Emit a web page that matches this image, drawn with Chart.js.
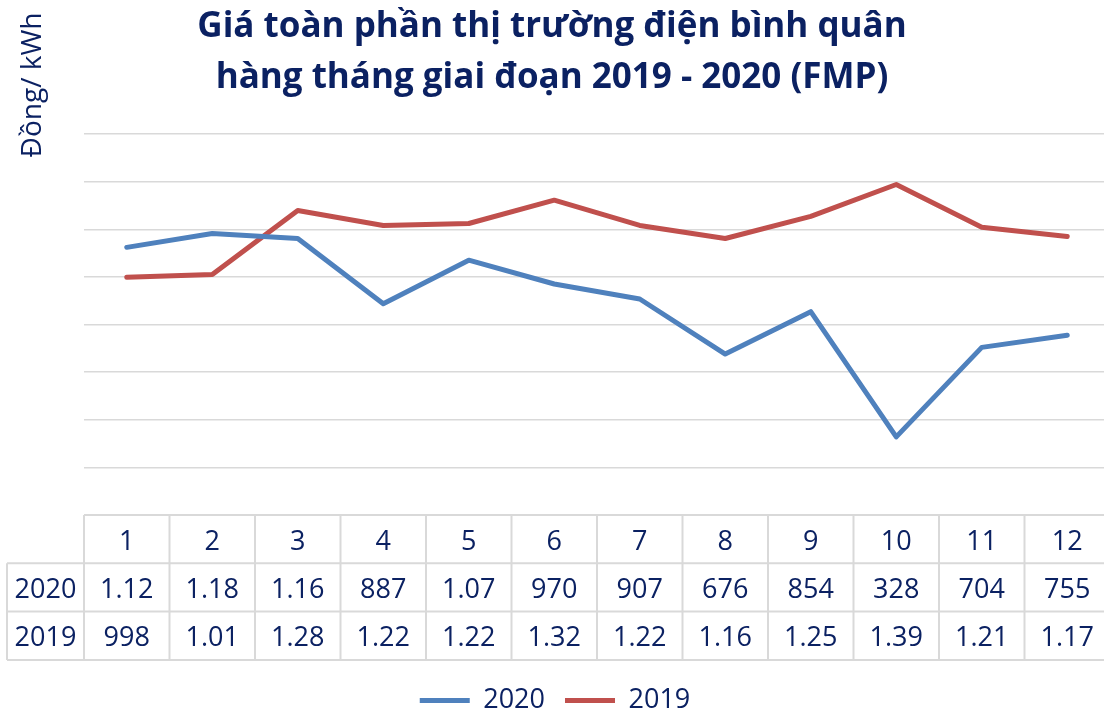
<!DOCTYPE html>
<html lang="vi">
<head>
    <meta charset="UTF-8">
    <title>Giá FMP 2019 - 2020</title>
    <script src="https://cdn.jsdelivr.net/npm/chart.js"></script>
    <style>
        html, body { margin: 0; padding: 0; background: #fff; overflow: hidden; }
        /* a little wider/taller than the window: right column and legend padding get cropped like the original */
        #chart-container { width: 1112px; height: 724px; }
    </style>
</head>
<body>
<div id="chart-container"><canvas id="fmpChart"></canvas></div>
<script>
    // data (Đồng/kWh)
    const months = ['1', '2', '3', '4', '5', '6', '7', '8', '9', '10', '11', '12'];
    const fmp2020 = [1124, 1182, 1161, 887, 1070, 970, 907, 676, 854, 328, 704, 755];
    const fmp2019 = [998, 1010, 1279, 1216, 1224, 1322, 1216, 1161, 1254, 1388, 1208, 1170];
    const seriesNames = ['2020', '2019'];
    const titleLines = ['Giá toàn phần thị trường điện bình quân', 'hàng tháng giai đoạn 2019 - 2020 (FMP)'];
    const yTitle = 'Đồng/ kWh';

    const navy = '#0B2162';
    const blue = '#4F81BD';
    const red = '#C0504D';
    const grey = '#D9D9D9';
    const font = '"Open Sans", "Noto Sans", sans-serif';

    // data table cells look like "1.12" for 1124 (thousands shown with a dot)
    function cellText(v) {
        return v >= 1000 ? (v / 1000).toFixed(2) : String(v);
    }

    const extras = {
        id: 'extras',
        afterDraw(chart) {
            const ctx = chart.ctx;
            const xs = chart.scales.x;
            const area = chart.chartArea;
            const colW = (area.right - area.left) / months.length;
            const top = area.bottom;
            const rowH = 48.3;
            const leftEdge = 7;

            ctx.save();

            // title
            ctx.fillStyle = navy;
            ctx.textAlign = 'center';
            ctx.textBaseline = 'alphabetic';
            ctx.font = 'bold 35px ' + font;
            ctx.fillText(titleLines[0], 552, 37);
            ctx.fillText(titleLines[1], 552, 88);

            // y axis title
            ctx.save();
            ctx.translate(41, 85);
            ctx.rotate(-Math.PI / 2);
            ctx.font = '28px ' + font;
            ctx.fillText(yTitle, 0, 0);
            ctx.restore();

            // table grid
            ctx.strokeStyle = grey;
            ctx.lineWidth = 2;
            ctx.beginPath();
            ctx.moveTo(area.left, top);
            ctx.lineTo(area.right, top);
            for (let r = 1; r <= 3; r++) {
                ctx.moveTo(leftEdge, top + r * rowH);
                ctx.lineTo(area.right, top + r * rowH);
            }
            for (let c = 0; c <= months.length; c++) {
                const x = area.left + c * colW;
                ctx.moveTo(x, top);
                ctx.lineTo(x, top + 3 * rowH);
            }
            ctx.moveTo(leftEdge, top + rowH);
            ctx.lineTo(leftEdge, top + 3 * rowH);
            ctx.stroke();

            // table text
            ctx.font = '27px ' + font;
            ctx.textAlign = 'center';
            const base = 34.5;
            const rows = [fmp2020, fmp2019];
            months.forEach((m, i) => {
                const cx = xs.getPixelForValue(i);
                ctx.fillText(m, cx, top + base);
                rows.forEach((vals, r) => {
                    ctx.fillText(cellText(vals[i]), cx, top + rowH * (r + 1) + base);
                });
            });
            seriesNames.forEach((name, r) => {
                ctx.fillText(name, (leftEdge + area.left) / 2, top + rowH * (r + 1) + base);
            });

            ctx.restore();
        }
    };

    new Chart(document.getElementById('fmpChart'), {
        type: 'line',
        data: {
            labels: months,
            datasets: [{
                label: seriesNames[0],
                data: fmp2020,
                borderColor: blue,
                backgroundColor: blue,
                borderWidth: 5,
                borderCapStyle: 'round',
                borderJoinStyle: 'round',
                pointRadius: 0,
                tension: 0
            }, {
                label: seriesNames[1],
                data: fmp2019,
                borderColor: red,
                backgroundColor: red,
                borderWidth: 5,
                borderCapStyle: 'round',
                borderJoinStyle: 'round',
                pointRadius: 0,
                tension: 0
            }]
        },
        options: {
            responsive: true,
            maintainAspectRatio: false,
            animation: false,
            layout: { padding: { top: 134, left: 0, right: 2, bottom: 0 } },
            plugins: {
                title: { display: false },
                tooltip: { enabled: false },
                legend: {
                    position: 'bottom',
                    labels: {
                        color: navy,
                        font: { family: font, size: 27 },
                        usePointStyle: true,
                        pointStyle: 'line',
                        pointStyleWidth: 50,
                        padding: 20
                    }
                }
            },
            scales: {
                x: {
                    offset: true,
                    grid: { display: false },
                    border: { display: false },
                    ticks: { display: false },
                    afterFit(scale) { scale.height = 152; }
                },
                y: {
                    min: 0,
                    max: 1600,
                    ticks: { display: false, stepSize: 200 },
                    border: { display: false },
                    grid: { color: grey, lineWidth: 1.5, drawTicks: false },
                    afterFit(scale) { scale.width = 84; }
                }
            }
        },
        plugins: [extras]
    });
</script>
</body>
</html>
